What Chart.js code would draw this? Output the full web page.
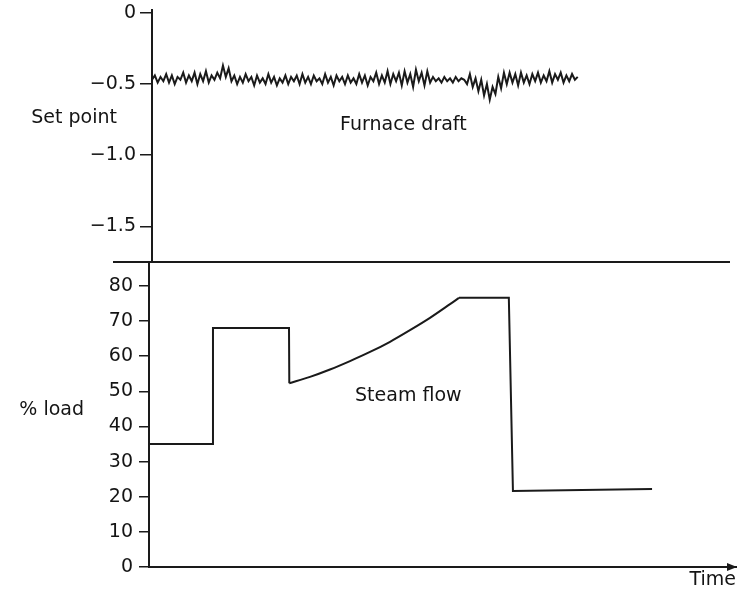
<!DOCTYPE html>
<html>
<head>
<meta charset="utf-8">
<title>Furnace draft and steam flow</title>
<script src="https://cdn.jsdelivr.net/npm/chart.js@4.4.1/dist/chart.umd.min.js"></script>
<style>
  body { margin: 0; background: #fff; }
  #wrap { position: relative; width: 739px; height: 592px; overflow: hidden; background: #fff; }
  canvas { position: absolute; left: 0; }
  #draftChart { top: -20px; }
  #steamChart { top: 232px; }
</style>
</head>
<body>
<div id="wrap">
  <canvas id="steamChart" width="739" height="360"></canvas>
  <canvas id="draftChart" width="739" height="310"></canvas>
</div>
<script>
// furnace draft (top panel), sampled every 0.486 time units from t = 0
const draftStart = 0;
const draftStep = 0.486;
const draftValues = [
  -0.47, -0.44, -0.49, -0.45, -0.48, -0.43, -0.49, -0.44, -0.50, -0.45, -0.47, -0.42, -0.49, -0.44, -0.48, -0.42, -0.50, -0.43, -0.48, -0.41, -0.49, -0.44, -0.47, -0.42, -0.46,
  -0.37, -0.45, -0.39,
  -0.48, -0.44, -0.50, -0.45, -0.49, -0.43, -0.48, -0.45, -0.51, -0.44, -0.49, -0.46, -0.50, -0.43, -0.49, -0.45, -0.51, -0.46, -0.49, -0.44, -0.50, -0.45, -0.48, -0.44, -0.50,
  -0.43, -0.49, -0.45, -0.50, -0.44, -0.48, -0.46, -0.50, -0.43, -0.49, -0.45, -0.51, -0.44, -0.48, -0.45, -0.50, -0.44, -0.49,
  -0.46, -0.50, -0.43, -0.49, -0.44, -0.51, -0.45, -0.48, -0.42, -0.50, -0.44, -0.49, -0.41, -0.50, -0.43, -0.48, -0.42,
  -0.51, -0.41, -0.49, -0.43, -0.52, -0.40, -0.48, -0.42, -0.51, -0.41, -0.49, -0.45, -0.48, -0.46, -0.49, -0.45, -0.48, -0.46, -0.49, -0.45, -0.48, -0.46, -0.47,
  -0.50, -0.43, -0.52, -0.46, -0.55, -0.47, -0.58, -0.50, -0.61, -0.52, -0.57, -0.45, -0.53, -0.42,
  -0.50, -0.42, -0.49, -0.43, -0.51, -0.42, -0.49, -0.44, -0.50, -0.43, -0.48, -0.42, -0.49, -0.44, -0.48, -0.41, -0.49, -0.43, -0.47, -0.42, -0.49, -0.44, -0.48, -0.43, -0.47, -0.45
];
const draftTicks = [0, -0.5, -1.0, -1.5];
const draftTickLabels = ['0', '\u22120.5', '\u22121.0', '\u22121.5'];

// steam flow (bottom panel), % load against time
const steamTime = [0, 10.9, 10.9, 23.85, 23.9, 27.43, 30.83, 34.24, 37.65, 41.06, 44.46, 47.87, 51.28, 52.81, 61.3, 62.0, 85.7];
const steamLoad = [35, 35, 68, 68, 52.3, 54.1, 56.2, 58.6, 61.2, 64.1, 67.4, 70.9, 74.8, 76.6, 76.6, 21.6, 22.2];
// points 4..13 form the smooth rise, the rest are straight steps
const curveFrom = 4;
const curveTo = 13;
const steamTicks = [0, 10, 20, 30, 40, 50, 60, 70, 80];

const ink = '#1a1a1a';
const textInk = '#141414';
const font = { family: 'DejaVu Sans', size: 19 };
Chart.defaults.color = textInk;
Chart.defaults.font.family = 'DejaVu Sans';

function drawText(ctx, text, x, y, align) {
    ctx.save();
    ctx.font = '19px "DejaVu Sans"';
    ctx.fillStyle = textInk;
    ctx.textAlign = align;
    ctx.textBaseline = 'middle';
    ctx.fillText(text, x, y);
    ctx.restore();
}

function points(from, to) {
    const pts = [];
    for (let i = from; i <= to; i++) pts.push({ x: steamTime[i], y: steamLoad[i] });
    return pts;
}

const draftDecor = {
    id: 'draftDecor',
    afterDraw(chart) {
        const { ctx, chartArea, scales } = chart;
        ctx.save();
        ctx.strokeStyle = ink;
        ctx.lineWidth = 2;
        ctx.beginPath();
        ctx.moveTo(chartArea.left - 39, chartArea.bottom);
        ctx.lineTo(chartArea.right - 6, chartArea.bottom);
        ctx.stroke();
        ctx.restore();
        drawText(ctx, 'Set point', chartArea.left - 35, scales.y.getPixelForValue(-0.74), 'right');
        drawText(ctx, 'Furnace draft', scales.x.getPixelForValue(32.2), scales.y.getPixelForValue(-0.79), 'left');
    }
};

const steamDecor = {
    id: 'steamDecor',
    afterDraw(chart) {
        const { ctx, chartArea, scales } = chart;
        ctx.save();
        ctx.fillStyle = ink;
        ctx.beginPath();
        ctx.moveTo(chartArea.right + 1, chartArea.bottom);
        ctx.lineTo(chartArea.right - 9, chartArea.bottom - 4);
        ctx.lineTo(chartArea.right - 9, chartArea.bottom + 4);
        ctx.closePath();
        ctx.fill();
        ctx.restore();
        drawText(ctx, '% load', chartArea.left - 65, scales.y.getPixelForValue(44.7), 'right');
        drawText(ctx, 'Steam flow', scales.x.getPixelForValue(35.1), scales.y.getPixelForValue(48.7), 'left');
    }
};

new Chart(document.getElementById('draftChart'), {
    type: 'line',
    data: {
        datasets: [{
            data: draftValues.map((v, i) => ({ x: draftStart + i * draftStep, y: v })),
            borderColor: ink,
            borderWidth: 2,
            pointRadius: 0,
            tension: 0
        }]
    },
    options: {
        responsive: false,
        animation: false,
        layout: { padding: { top: 30, bottom: 28, left: 0, right: 3 } },
        plugins: { legend: { display: false }, tooltip: { enabled: false } },
        scales: {
            x: { type: 'linear', min: 0, max: 100, display: false },
            y: {
                min: -1.75,
                max: 0.02,
                afterFit: s => { s.width = 152; },
                afterBuildTicks: s => { s.ticks = draftTicks.map(v => ({ value: v })); },
                ticks: {
                    padding: 4,
                    font,
                    callback: v => draftTickLabels[draftTicks.indexOf(v)]
                },
                grid: { drawOnChartArea: false, tickLength: 12, color: ink, lineWidth: 1.5 },
                border: { color: ink, width: 2 }
            }
        }
    },
    plugins: [draftDecor]
});

const stepStyle = { borderColor: ink, borderWidth: 2, pointRadius: 0, tension: 0 };

new Chart(document.getElementById('steamChart'), {
    type: 'line',
    data: {
        datasets: [
            { ...stepStyle, data: points(0, curveFrom) },
            { ...stepStyle, data: points(curveFrom, curveTo), tension: 0.3 },
            { ...stepStyle, data: points(curveTo, steamTime.length - 1) }
        ]
    },
    options: {
        responsive: false,
        animation: false,
        layout: { padding: { top: 30, bottom: 0, left: 0, right: 3 } },
        plugins: { legend: { display: false }, tooltip: { enabled: false } },
        scales: {
            x: {
                type: 'linear',
                min: 0,
                max: 100,
                afterFit: s => { s.height = 25; },
                ticks: { display: false },
                grid: { display: false },
                border: { color: ink, width: 2 },
                title: { display: true, text: 'Time', align: 'end', padding: { top: 0, bottom: 1 }, font }
            },
            y: {
                min: 0,
                max: 86.8,
                afterFit: s => { s.width = 149; },
                afterBuildTicks: s => { s.ticks = steamTicks.map(v => ({ value: v })); },
                ticks: { padding: 6, font },
                grid: { drawOnChartArea: false, tickLength: 10, color: ink, lineWidth: 1.5 },
                border: { color: ink, width: 2 }
            }
        }
    },
    plugins: [steamDecor]
});
</script>
</body>
</html>
